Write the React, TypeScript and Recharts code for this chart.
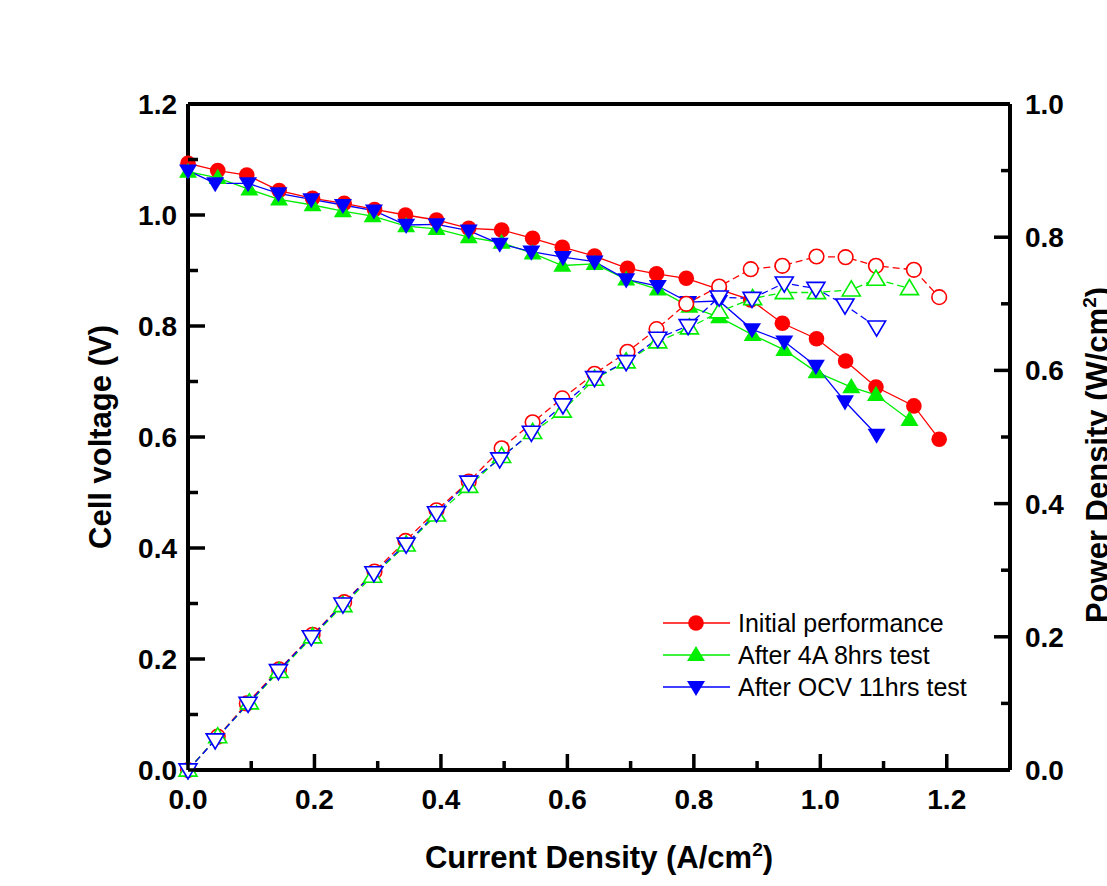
import React from 'react';
import {
    ComposedChart,
    Line,
    XAxis,
    YAxis,
    ReferenceLine,
    Legend,
} from 'recharts';

// Initial performance
const currentInit = [0, 0.047, 0.093, 0.144, 0.197, 0.247, 0.295, 0.344, 0.393, 0.444, 0.496, 0.545, 0.592, 0.643, 0.695, 0.741, 0.788, 0.84, 0.89, 0.94, 0.994, 1.04, 1.088, 1.148, 1.188];
const voltageInit = [1.093, 1.08, 1.072, 1.044, 1.03, 1.021, 1.01, 1.0, 0.991, 0.976, 0.973, 0.958, 0.942, 0.926, 0.904, 0.894, 0.886, 0.866, 0.847, 0.805, 0.777, 0.737, 0.69, 0.656, 0.596];
const powerInit = [0, 0.05, 0.1, 0.151, 0.203, 0.252, 0.298, 0.344, 0.39, 0.433, 0.483, 0.522, 0.558, 0.595, 0.628, 0.662, 0.7, 0.726, 0.752, 0.757, 0.771, 0.77, 0.757, 0.751, 0.71];

// After 4A 8hrs test
const current4A = [0, 0.047, 0.097, 0.144, 0.197, 0.245, 0.292, 0.345, 0.393, 0.444, 0.496, 0.545, 0.592, 0.643, 0.693, 0.743, 0.793, 0.84, 0.893, 0.943, 0.994, 1.049, 1.088, 1.141];
const voltage4A = [1.078, 1.067, 1.046, 1.028, 1.018, 1.007, 0.998, 0.98, 0.975, 0.96, 0.95, 0.931, 0.909, 0.912, 0.884, 0.866, 0.835, 0.816, 0.784, 0.757, 0.717, 0.69, 0.676, 0.631];
const power4A = [0, 0.05, 0.101, 0.148, 0.2, 0.247, 0.291, 0.338, 0.383, 0.426, 0.471, 0.507, 0.539, 0.587, 0.613, 0.643, 0.664, 0.688, 0.708, 0.717, 0.717, 0.721, 0.737, 0.723];

// After OCV 11hrs test
const currentOCV = [0, 0.043, 0.095, 0.143, 0.195, 0.245, 0.294, 0.345, 0.393, 0.444, 0.493, 0.543, 0.593, 0.643, 0.693, 0.743, 0.791, 0.84, 0.892, 0.943, 0.993, 1.039, 1.089];
const voltageOCV = [1.08, 1.057, 1.057, 1.039, 1.028, 1.018, 1.008, 0.982, 0.983, 0.972, 0.948, 0.934, 0.924, 0.916, 0.884, 0.872, 0.843, 0.845, 0.794, 0.772, 0.728, 0.664, 0.604];
const powerOCV = [0, 0.045, 0.1, 0.149, 0.2, 0.249, 0.296, 0.339, 0.386, 0.432, 0.467, 0.507, 0.548, 0.589, 0.613, 0.648, 0.667, 0.71, 0.708, 0.731, 0.723, 0.698, 0.665];

const seriesNames = ['Initial performance', 'After 4A 8hrs test', 'After OCV 11hrs test'];
const seriesColors = ['#ff0000', '#00ee00', '#0000ff'];
const seriesMarkers = ['circle', 'up', 'down'];

const xTicks = [0, 0.1, 0.2, 0.3, 0.4, 0.5, 0.6, 0.7, 0.8, 0.9, 1.0, 1.1, 1.2, 1.3];
const leftTicks = [0, 0.1, 0.2, 0.3, 0.4, 0.5, 0.6, 0.7, 0.8, 0.9, 1.0, 1.1, 1.2];
const rightTicks = [0, 0.1, 0.2, 0.3, 0.4, 0.5, 0.6, 0.7, 0.8, 0.9, 1.0];

const toPoints = (xs: number[], ys: number[]) => xs.map((x, i) => ({ x, y: ys[i] }));

const FONT = '"Liberation Sans", Arial, sans-serif';

const isMajor = (v: number) => Math.round(v * 10) % 2 === 0;

function Marker({ cx, cy, shape, color, open }: { cx: number; cy: number; shape: string; color: string; open: boolean }) {
    const fill = open ? '#ffffff' : color;
    const sw = open ? 1.6 : 0;
    if (shape === 'circle') {
        return <circle cx={cx} cy={cy} r={open ? 7.3 : 7.8} fill={fill} stroke={color} strokeWidth={sw} />;
    }
    const h = 9;
    const pts = shape === 'up'
        ? `${cx},${cy - h} ${cx - h},${cy + h * 0.68} ${cx + h},${cy + h * 0.68}`
        : `${cx},${cy + h} ${cx - h},${cy - h * 0.68} ${cx + h},${cy - h * 0.68}`;
    return <polygon points={pts} fill={fill} stroke={color} strokeWidth={sw} />;
}

const makeDot = (shape: string, color: string, open: boolean) => (props: any) => {
    const { cx, cy, index } = props;
    if (cx == null || cy == null) return <g key={index} />;
    return <Marker key={index} cx={cx} cy={cy} shape={shape} color={color} open={open} />;
};

function XTick({ x, y, payload }: any) {
    const major = isMajor(payload.value);
    return (
        <g>
            <line x1={x} y1={y} x2={x} y2={y - (major ? 16 : 9)} stroke="#000" strokeWidth={3.5} />
            {major && payload.value < 1.25 && (
                <text x={x} y={y + 39} textAnchor="middle" fontFamily={FONT} fontWeight="bold" fontSize={28} fill="#000">
                    {payload.value.toFixed(1)}
                </text>
            )}
        </g>
    );
}

function LeftTick({ x, y, payload }: any) {
    const major = isMajor(payload.value);
    return (
        <g>
            <line x1={x} y1={y} x2={x + (major ? 17 : 10)} y2={y} stroke="#000" strokeWidth={3.5} />
            {major && (
                <text x={x - 11} y={y + 10} textAnchor="end" fontFamily={FONT} fontWeight="bold" fontSize={28} fill="#000">
                    {payload.value.toFixed(1)}
                </text>
            )}
        </g>
    );
}

function RightTick({ x, y, payload }: any) {
    const major = isMajor(payload.value);
    return (
        <g>
            <line x1={x} y1={y} x2={x - (major ? 16 : 9)} y2={y} stroke="#000" strokeWidth={3.5} />
            {major && (
                <text x={x + 15} y={y + 10} textAnchor="start" fontFamily={FONT} fontWeight="bold" fontSize={28} fill="#000">
                    {payload.value.toFixed(1)}
                </text>
            )}
        </g>
    );
}

function LegendBox() {
    return (
        <svg width={360} height={100}>
            {seriesNames.map((name, i) => {
                const cy = 18 + i * 32;
                return (
                    <g key={name}>
                        <line x1={8} y1={cy} x2={75} y2={cy} stroke={seriesColors[i]} strokeWidth={1.3} />
                        <Marker cx={41} cy={cy} shape={seriesMarkers[i]} color={seriesColors[i]} open={false} />
                        <text x={83} y={cy + 9} fontFamily={FONT} fontSize={25} fill="#000">{name}</text>
                    </g>
                );
            })}
        </svg>
    );
}

export default function App() {
    const voltageData = [
        toPoints(currentInit, voltageInit),
        toPoints(current4A, voltage4A),
        toPoints(currentOCV, voltageOCV),
    ];
    const powerData = [
        toPoints(currentInit, powerInit),
        toPoints(current4A, power4A),
        toPoints(currentOCV, powerOCV),
    ];

    return (
        <div style={{ position: 'absolute', left: 0, top: 0, width: 1107, height: 886, background: '#fff' }}>
            <ComposedChart
                width={1107}
                height={886}
                margin={{ top: 104, right: 0, bottom: 0, left: 0 }}
            >
                <XAxis
                    type="number"
                    dataKey="x"
                    domain={[0, 1.3]}
                    ticks={xTicks}
                    interval={0}
                    height={116}
                    tickSize={0}
                    tickMargin={0}
                    tickLine={false}
                    axisLine={{ stroke: '#000', strokeWidth: 4 }}
                    tick={<XTick />}
                    label={{
                        content: () => (
                            <text x={599} y={868} textAnchor="middle" fontFamily={FONT} fontWeight="bold" fontSize={31} fill="#000">
                                Current Density (A/cm<tspan dy={-12} fontSize={19}>2</tspan><tspan dy={12}>)</tspan>
                            </text>
                        ),
                    }}
                />
                <YAxis
                    yAxisId="left"
                    type="number"
                    domain={[0, 1.2]}
                    ticks={leftTicks}
                    interval={0}
                    width={188}
                    tickSize={0}
                    tickMargin={0}
                    tickLine={false}
                    axisLine={{ stroke: '#000', strokeWidth: 4 }}
                    tick={<LeftTick />}
                    label={{
                        content: () => (
                            <text x={111} y={437} transform="rotate(-90 111 437)" textAnchor="middle" fontFamily={FONT} fontWeight="bold" fontSize={31} fill="#000">
                                Cell voltage (V)
                            </text>
                        ),
                    }}
                />
                <YAxis
                    yAxisId="right"
                    orientation="right"
                    type="number"
                    domain={[0, 1.0]}
                    ticks={rightTicks}
                    interval={0}
                    width={97}
                    tickSize={0}
                    tickMargin={0}
                    tickLine={false}
                    axisLine={{ stroke: '#000', strokeWidth: 4 }}
                    tick={<RightTick />}
                    label={{
                        content: () => (
                            <text x={1108} y={455} transform="rotate(-90 1108 455)" textAnchor="middle" fontFamily={FONT} fontWeight="bold" fontSize={31} fill="#000">
                                Power Density (W/cm<tspan dy={-12} fontSize={19}>2</tspan><tspan dy={12}>)</tspan>
                            </text>
                        ),
                    }}
                />
                <ReferenceLine yAxisId="left" y={1.2} stroke="#000" strokeWidth={4} />
                {voltageData.map((d, i) => (
                    <Line
                        key={`v-${i}`}
                        yAxisId="left"
                        data={d}
                        dataKey="y"
                        name={seriesNames[i]}
                        type="linear"
                        stroke={seriesColors[i]}
                        strokeWidth={1.3}
                        dot={makeDot(seriesMarkers[i], seriesColors[i], false)}
                        activeDot={false}
                        isAnimationActive={false}
                    />
                ))}
                {powerData.map((d, i) => (
                    <Line
                        key={`p-${i}`}
                        yAxisId="right"
                        data={d}
                        dataKey="y"
                        name={`${seriesNames[i]} power`}
                        type="linear"
                        stroke={seriesColors[i]}
                        strokeWidth={1.3}
                        strokeDasharray="7 4"
                        dot={makeDot(seriesMarkers[i], seriesColors[i], true)}
                        activeDot={false}
                        legendType="none"
                        isAnimationActive={false}
                    />
                ))}
                <Legend
                    layout="horizontal"
                    verticalAlign="middle"
                    align="center"
                    content={() => <LegendBox />}
                    wrapperStyle={{ left: 655, top: 605, width: 360, height: 100 }}
                />
            </ComposedChart>
        </div>
    );
}
